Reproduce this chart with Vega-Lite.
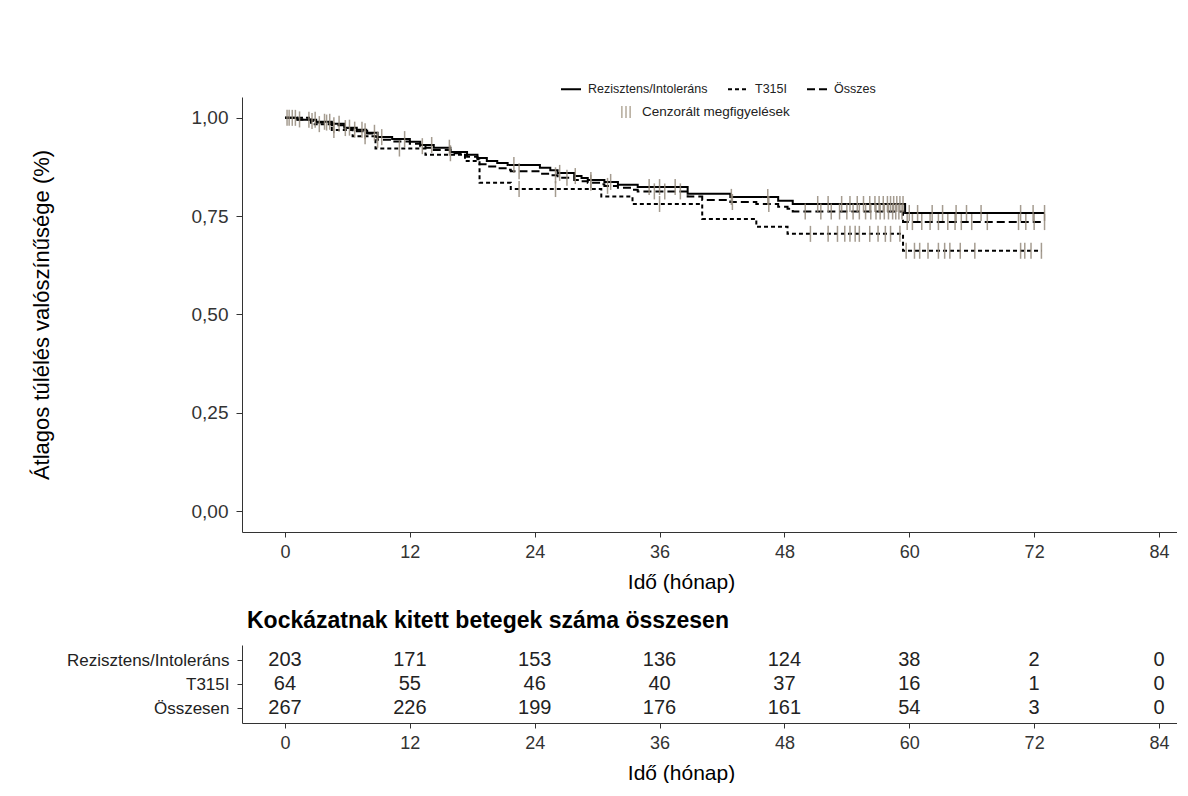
{
"$schema": "https://vega.github.io/schema/vega-lite/v6.json",
"background": "white",
"padding": {"left": 30, "top": 78, "right": 0, "bottom": 0},
"config": {"view": {"stroke": null}, "font": "Liberation Sans", "concat": {"spacing": 18}},
"datasets": {
"curves": [
{"group":"Rezisztens/Intoleráns","t":0,"s":1},{"group":"Rezisztens/Intoleráns","t":1.2,"s":0.995},{"group":"Rezisztens/Intoleráns","t":3,"s":0.99},{"group":"Rezisztens/Intoleráns","t":4.5,"s":0.985},{"group":"Rezisztens/Intoleráns","t":5.7,"s":0.975},{"group":"Rezisztens/Intoleráns","t":6.9,"s":0.97},{"group":"Rezisztens/Intoleráns","t":7.9,"s":0.962},{"group":"Rezisztens/Intoleráns","t":8.9,"s":0.951},{"group":"Rezisztens/Intoleráns","t":10.3,"s":0.946},{"group":"Rezisztens/Intoleráns","t":12,"s":0.939},{"group":"Rezisztens/Intoleráns","t":13,"s":0.931},{"group":"Rezisztens/Intoleráns","t":14.3,"s":0.924},{"group":"Rezisztens/Intoleráns","t":15.9,"s":0.913},{"group":"Rezisztens/Intoleráns","t":17.5,"s":0.906},{"group":"Rezisztens/Intoleráns","t":18.5,"s":0.898},{"group":"Rezisztens/Intoleráns","t":19.4,"s":0.89},{"group":"Rezisztens/Intoleráns","t":20.4,"s":0.885},{"group":"Rezisztens/Intoleráns","t":21.4,"s":0.88},{"group":"Rezisztens/Intoleráns","t":24.5,"s":0.873},{"group":"Rezisztens/Intoleráns","t":25.5,"s":0.867},{"group":"Rezisztens/Intoleráns","t":26.2,"s":0.86},{"group":"Rezisztens/Intoleráns","t":27.8,"s":0.852},{"group":"Rezisztens/Intoleráns","t":28.5,"s":0.847},{"group":"Rezisztens/Intoleráns","t":29.1,"s":0.842},{"group":"Rezisztens/Intoleráns","t":30.7,"s":0.837},{"group":"Rezisztens/Intoleráns","t":32,"s":0.83},{"group":"Rezisztens/Intoleráns","t":33.9,"s":0.824},{"group":"Rezisztens/Intoleráns","t":38.7,"s":0.807},{"group":"Rezisztens/Intoleráns","t":42.8,"s":0.799},{"group":"Rezisztens/Intoleráns","t":47.4,"s":0.789},{"group":"Rezisztens/Intoleráns","t":48.8,"s":0.781},{"group":"Rezisztens/Intoleráns","t":59.6,"s":0.758},{"group":"Rezisztens/Intoleráns","t":73,"s":0.758},
{"group":"T315I","t":0,"s":1},{"group":"T315I","t":2.5,"s":0.984},{"group":"T315I","t":4.5,"s":0.969},{"group":"T315I","t":6.5,"s":0.953},{"group":"T315I","t":8.7,"s":0.922},{"group":"T315I","t":13.5,"s":0.906},{"group":"T315I","t":17.3,"s":0.89},{"group":"T315I","t":18.7,"s":0.835},{"group":"T315I","t":21.7,"s":0.819},{"group":"T315I","t":30.4,"s":0.8},{"group":"T315I","t":33.4,"s":0.781},{"group":"T315I","t":40.1,"s":0.743},{"group":"T315I","t":45.3,"s":0.723},{"group":"T315I","t":48.3,"s":0.705},{"group":"T315I","t":59.4,"s":0.662},{"group":"T315I","t":72.7,"s":0.662},
{"group":"Összes","t":0,"s":1},{"group":"Összes","t":1.2,"s":0.996},{"group":"Összes","t":2.5,"s":0.992},{"group":"Összes","t":3,"s":0.988},{"group":"Összes","t":4.5,"s":0.981},{"group":"Összes","t":5.7,"s":0.974},{"group":"Összes","t":6.5,"s":0.97},{"group":"Összes","t":6.9,"s":0.966},{"group":"Összes","t":7.9,"s":0.96},{"group":"Összes","t":8.7,"s":0.952},{"group":"Összes","t":8.9,"s":0.944},{"group":"Összes","t":10.3,"s":0.94},{"group":"Összes","t":12,"s":0.934},{"group":"Összes","t":13,"s":0.928},{"group":"Összes","t":13.5,"s":0.924},{"group":"Összes","t":14.3,"s":0.918},{"group":"Összes","t":15.9,"s":0.91},{"group":"Összes","t":17.3,"s":0.906},{"group":"Összes","t":17.5,"s":0.901},{"group":"Összes","t":18.5,"s":0.895},{"group":"Összes","t":18.7,"s":0.882},{"group":"Összes","t":19.4,"s":0.876},{"group":"Összes","t":20.4,"s":0.872},{"group":"Összes","t":21.4,"s":0.868},{"group":"Összes","t":21.7,"s":0.864},{"group":"Összes","t":24.5,"s":0.858},{"group":"Összes","t":25.5,"s":0.854},{"group":"Összes","t":26.2,"s":0.848},{"group":"Összes","t":27.8,"s":0.842},{"group":"Összes","t":28.5,"s":0.839},{"group":"Összes","t":29.1,"s":0.835},{"group":"Összes","t":30.4,"s":0.831},{"group":"Összes","t":30.7,"s":0.827},{"group":"Összes","t":32,"s":0.822},{"group":"Összes","t":33.4,"s":0.817},{"group":"Összes","t":33.9,"s":0.813},{"group":"Összes","t":38.7,"s":0.8},{"group":"Összes","t":40.1,"s":0.791},{"group":"Összes","t":42.8,"s":0.786},{"group":"Összes","t":45.3,"s":0.781},{"group":"Összes","t":47.4,"s":0.774},{"group":"Összes","t":48.3,"s":0.769},{"group":"Összes","t":48.8,"s":0.762},{"group":"Összes","t":59.4,"s":0.735},{"group":"Összes","t":73,"s":0.735}
],
"censor": [
{"group":"Rezisztens/Intoleráns","t":0.2,"s":1},{"group":"Rezisztens/Intoleráns","t":1,"s":1},{"group":"Rezisztens/Intoleráns","t":2.3,"s":0.995},{"group":"Rezisztens/Intoleráns","t":2.9,"s":0.995},{"group":"Rezisztens/Intoleráns","t":3.8,"s":0.99},{"group":"Rezisztens/Intoleráns","t":4.3,"s":0.99},{"group":"Rezisztens/Intoleráns","t":5.2,"s":0.985},{"group":"Rezisztens/Intoleráns","t":6.2,"s":0.975},{"group":"Rezisztens/Intoleráns","t":7.4,"s":0.97},{"group":"Rezisztens/Intoleráns","t":8.6,"s":0.962},{"group":"Rezisztens/Intoleráns","t":9.3,"s":0.951},{"group":"Rezisztens/Intoleráns","t":11.5,"s":0.946},{"group":"Rezisztens/Intoleráns","t":14.1,"s":0.931},{"group":"Rezisztens/Intoleráns","t":15.8,"s":0.924},{"group":"Rezisztens/Intoleráns","t":22,"s":0.88},{"group":"Rezisztens/Intoleráns","t":26.4,"s":0.86},{"group":"Rezisztens/Intoleráns","t":27.9,"s":0.852},{"group":"Rezisztens/Intoleráns","t":29.4,"s":0.842},{"group":"Rezisztens/Intoleráns","t":31.3,"s":0.837},{"group":"Rezisztens/Intoleráns","t":35,"s":0.824},{"group":"Rezisztens/Intoleráns","t":36,"s":0.824},{"group":"Rezisztens/Intoleráns","t":37.5,"s":0.824},{"group":"Rezisztens/Intoleráns","t":42.9,"s":0.799},{"group":"Rezisztens/Intoleráns","t":46.4,"s":0.799},{"group":"Rezisztens/Intoleráns","t":51.2,"s":0.781},{"group":"Rezisztens/Intoleráns","t":52.2,"s":0.781},{"group":"Rezisztens/Intoleráns","t":53.5,"s":0.781},{"group":"Rezisztens/Intoleráns","t":54.3,"s":0.781},{"group":"Rezisztens/Intoleráns","t":55,"s":0.781},{"group":"Rezisztens/Intoleráns","t":55.6,"s":0.781},{"group":"Rezisztens/Intoleráns","t":56.2,"s":0.781},{"group":"Rezisztens/Intoleráns","t":56.7,"s":0.781},{"group":"Rezisztens/Intoleráns","t":57.1,"s":0.781},{"group":"Rezisztens/Intoleráns","t":57.5,"s":0.781},{"group":"Rezisztens/Intoleráns","t":57.9,"s":0.781},{"group":"Rezisztens/Intoleráns","t":58.2,"s":0.781},{"group":"Rezisztens/Intoleráns","t":58.5,"s":0.781},{"group":"Rezisztens/Intoleráns","t":58.8,"s":0.781},{"group":"Rezisztens/Intoleráns","t":59.1,"s":0.781},{"group":"Rezisztens/Intoleráns","t":59.4,"s":0.781},{"group":"Rezisztens/Intoleráns","t":60,"s":0.758},{"group":"Rezisztens/Intoleráns","t":60.8,"s":0.758},{"group":"Rezisztens/Intoleráns","t":62.2,"s":0.758},{"group":"Rezisztens/Intoleráns","t":63.2,"s":0.758},{"group":"Rezisztens/Intoleráns","t":64.5,"s":0.758},{"group":"Rezisztens/Intoleráns","t":65.5,"s":0.758},{"group":"Rezisztens/Intoleráns","t":66.9,"s":0.758},{"group":"Rezisztens/Intoleráns","t":70.7,"s":0.758},{"group":"Rezisztens/Intoleráns","t":71.9,"s":0.758},{"group":"Rezisztens/Intoleráns","t":73,"s":0.758},
{"group":"T315I","t":0.7,"s":1},{"group":"T315I","t":3.3,"s":0.984},{"group":"T315I","t":4.7,"s":0.969},{"group":"T315I","t":7.7,"s":0.953},{"group":"T315I","t":11,"s":0.922},{"group":"T315I","t":22.5,"s":0.819},{"group":"T315I","t":26,"s":0.819},{"group":"T315I","t":36,"s":0.781},{"group":"T315I","t":50.5,"s":0.705},{"group":"T315I","t":52.2,"s":0.705},{"group":"T315I","t":53.1,"s":0.705},{"group":"T315I","t":53.8,"s":0.705},{"group":"T315I","t":54.3,"s":0.705},{"group":"T315I","t":54.8,"s":0.705},{"group":"T315I","t":55.2,"s":0.705},{"group":"T315I","t":56.2,"s":0.705},{"group":"T315I","t":57,"s":0.705},{"group":"T315I","t":57.7,"s":0.705},{"group":"T315I","t":58.2,"s":0.705},{"group":"T315I","t":59.1,"s":0.705},{"group":"T315I","t":59.7,"s":0.662},{"group":"T315I","t":60.5,"s":0.662},{"group":"T315I","t":61,"s":0.662},{"group":"T315I","t":61.8,"s":0.662},{"group":"T315I","t":62.8,"s":0.662},{"group":"T315I","t":63.4,"s":0.662},{"group":"T315I","t":63.9,"s":0.662},{"group":"T315I","t":64.9,"s":0.662},{"group":"T315I","t":66.3,"s":0.662},{"group":"T315I","t":70.7,"s":0.662},{"group":"T315I","t":71.1,"s":0.662},{"group":"T315I","t":71.7,"s":0.662},{"group":"T315I","t":72.7,"s":0.662},
{"group":"Összes","t":0.4,"s":1},{"group":"Összes","t":1.4,"s":0.996},{"group":"Összes","t":2.6,"s":0.992},{"group":"Összes","t":4,"s":0.988},{"group":"Összes","t":4.7,"s":0.981},{"group":"Összes","t":5.8,"s":0.974},{"group":"Összes","t":6.7,"s":0.97},{"group":"Összes","t":7.7,"s":0.966},{"group":"Összes","t":8.9,"s":0.944},{"group":"Összes","t":13.2,"s":0.928},{"group":"Összes","t":15.9,"s":0.91},{"group":"Összes","t":22.5,"s":0.864},{"group":"Összes","t":26,"s":0.854},{"group":"Összes","t":27.1,"s":0.848},{"group":"Összes","t":29.4,"s":0.835},{"group":"Összes","t":31,"s":0.827},{"group":"Összes","t":35.5,"s":0.813},{"group":"Összes","t":36.5,"s":0.813},{"group":"Összes","t":38,"s":0.813},{"group":"Összes","t":43,"s":0.786},{"group":"Összes","t":46.5,"s":0.781},{"group":"Összes","t":50,"s":0.762},{"group":"Összes","t":51.5,"s":0.762},{"group":"Összes","t":52.5,"s":0.762},{"group":"Összes","t":53.3,"s":0.762},{"group":"Összes","t":54,"s":0.762},{"group":"Összes","t":54.6,"s":0.762},{"group":"Összes","t":55.2,"s":0.762},{"group":"Összes","t":55.8,"s":0.762},{"group":"Összes","t":56.3,"s":0.762},{"group":"Összes","t":56.8,"s":0.762},{"group":"Összes","t":57.2,"s":0.762},{"group":"Összes","t":57.6,"s":0.762},{"group":"Összes","t":58,"s":0.762},{"group":"Összes","t":58.4,"s":0.762},{"group":"Összes","t":58.7,"s":0.762},{"group":"Összes","t":59,"s":0.762},{"group":"Összes","t":59.3,"s":0.762},{"group":"Összes","t":59.8,"s":0.735},{"group":"Összes","t":60.3,"s":0.735},{"group":"Összes","t":61.2,"s":0.735},{"group":"Összes","t":62,"s":0.735},{"group":"Összes","t":62.8,"s":0.735},{"group":"Összes","t":63.7,"s":0.735},{"group":"Összes","t":64.4,"s":0.735},{"group":"Összes","t":65,"s":0.735},{"group":"Összes","t":66,"s":0.735},{"group":"Összes","t":67.5,"s":0.735},{"group":"Összes","t":70.5,"s":0.735},{"group":"Összes","t":71.2,"s":0.735},{"group":"Összes","t":72,"s":0.735},{"group":"Összes","t":73,"s":0.735}
],
"risk": [
{"group":"Rezisztens/Intoleráns","t":0,"n":203},{"group":"Rezisztens/Intoleráns","t":12,"n":171},{"group":"Rezisztens/Intoleráns","t":24,"n":153},{"group":"Rezisztens/Intoleráns","t":36,"n":136},{"group":"Rezisztens/Intoleráns","t":48,"n":124},{"group":"Rezisztens/Intoleráns","t":60,"n":38},{"group":"Rezisztens/Intoleráns","t":72,"n":2},{"group":"Rezisztens/Intoleráns","t":84,"n":0},
{"group":"T315I","t":0,"n":64},{"group":"T315I","t":12,"n":55},{"group":"T315I","t":24,"n":46},{"group":"T315I","t":36,"n":40},{"group":"T315I","t":48,"n":37},{"group":"T315I","t":60,"n":16},{"group":"T315I","t":72,"n":1},{"group":"T315I","t":84,"n":0},
{"group":"Összesen","t":0,"n":267},{"group":"Összesen","t":12,"n":226},{"group":"Összesen","t":24,"n":199},{"group":"Összesen","t":36,"n":176},{"group":"Összesen","t":48,"n":161},{"group":"Összesen","t":60,"n":54},{"group":"Összesen","t":72,"n":3},{"group":"Összesen","t":84,"n":0}
]
},
"vconcat": [
{
"width": 935, "height": 435,
"layer": [
{
"data": {"name": "curves"},
"mark": {"type": "line", "interpolate": "step-after", "color": "black", "strokeWidth": 2},
"encoding": {
"x": {"field": "t", "type": "quantitative", "scale": {"domain": [-4.13, 85.73], "nice": false, "zero": false},
 "axis": {"values": [0,12,24,36,48,60,72,84], "grid": false, "domainColor": "#333", "tickColor": "#333", "tickSize": 5, "labelFontSize": 18, "labelColor": "#333", "labelPadding": 6, "title": "Idő (hónap)", "titleFontSize": 21, "titleFontWeight": "normal", "titleColor": "black", "titlePadding": 10, "titleX": 439}},
"y": {"field": "s", "type": "quantitative", "scale": {"domain": [-0.053, 1.053], "nice": false, "zero": false},
 "axis": {"values": [0,0.25,0.5,0.75,1], "labelExpr": "replace(format(datum.value, '.2f'), '.', ',')", "grid": false, "domainColor": "#333", "tickColor": "#333", "tickSize": 6, "labelFontSize": 19, "labelColor": "#333", "labelPadding": 8, "title": "Átlagos túlélés valószínűsége (%)", "titleFontSize": 22, "titleFontWeight": "normal", "titleColor": "black", "titlePadding": 138}},
"strokeDash": {"field": "group", "type": "nominal",
 "scale": {"domain": ["Rezisztens/Intoleráns", "T315I", "Összes"], "range": [[1,0],[4,3],[8,4]]},
 "legend": {"orient": "none", "legendX": 318, "legendY": -19, "direction": "horizontal", "title": null, "labelFontSize": 12.5, "labelColor": "#222", "symbolType": "stroke", "symbolSize": 400, "symbolStrokeWidth": 1.8, "symbolStrokeColor": "black", "columnPadding": 16, "labelOffset": 6}}
}
},
{
"data": {"name": "censor"},
"mark": {"type": "tick", "orient": "vertical", "size": 16, "thickness": 1.5, "opacity": 0.85},
"encoding": {
"x": {"field": "t", "type": "quantitative"},
"y": {"field": "s", "type": "quantitative"},
"color": {"datum": "Cenzorált megfigyelések", "scale": {"range": ["#958b7c"]},
 "legend": {"orient": "none", "legendX": 377, "legendY": 8, "title": null, "labelFontSize": 13.5, "labelColor": "#222", "symbolType": "M-0.7,-1L-0.7,1M0,-1L0,1M0.7,-1L0.7,1", "symbolSize": 140, "symbolStrokeWidth": 1.5, "symbolStrokeColor": "#a89c8a", "labelOffset": 9}}
}
}
]
},
{
"width": 935, "height": 78,
"data": {"name": "risk"},
"title": {"text": "Kockázatnak kitett betegek száma összesen", "anchor": "start", "frame": "group", "fontSize": 23, "fontWeight": "bold", "color": "black", "offset": 12, "dx": 5},
"mark": {"type": "text", "fontSize": 20, "color": "#222", "baseline": "middle"},
"encoding": {
"x": {"field": "t", "type": "quantitative", "scale": {"domain": [-4.13, 85.73], "nice": false, "zero": false},
 "axis": {"values": [0,12,24,36,48,60,72,84], "grid": false, "domainColor": "#333", "tickColor": "#333", "tickSize": 5, "labelFontSize": 18, "labelColor": "#333", "labelPadding": 6, "title": "Idő (hónap)", "titleFontSize": 21, "titleFontWeight": "normal", "titleColor": "black", "titlePadding": 10, "titleX": 439}},
"y": {"field": "group", "type": "ordinal", "sort": ["Rezisztens/Intoleráns", "T315I", "Összesen"],
 "scale": {"type": "point", "padding": 0.625},
 "axis": {"title": null, "grid": false, "domainColor": "#333", "tickColor": "#333", "tickSize": 5, "labelFontSize": 17, "labelLimit": 400, "labelColor": "#222", "labelPadding": 8}},
"text": {"field": "n", "type": "quantitative"}
}
}
]
}
